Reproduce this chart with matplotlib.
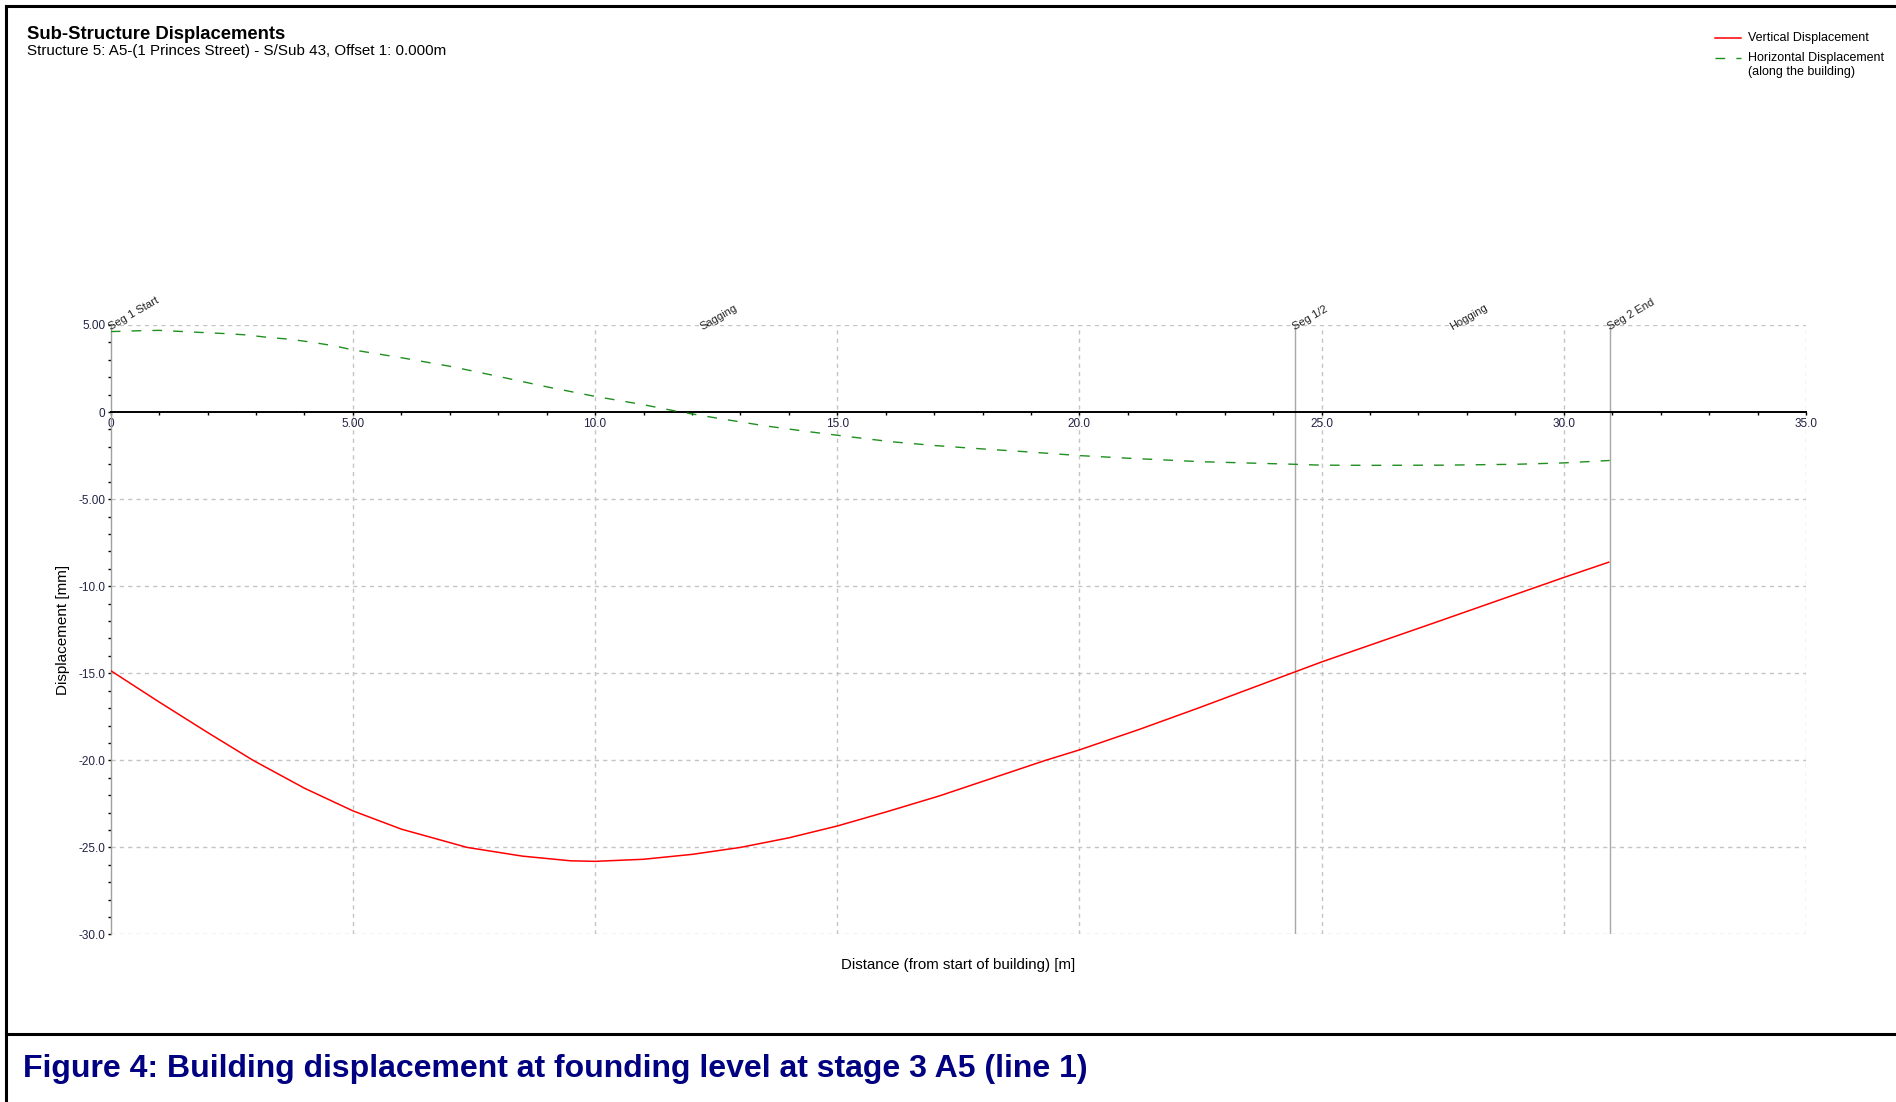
import numpy as np
import matplotlib.pyplot as plt
from matplotlib.lines import Line2D
from matplotlib.ticker import MultipleLocator, FixedLocator

plt.rcParams['font.family'] = ['Liberation Sans', 'DejaVu Sans']

# vertical displacement (mm) along the building
dist_v = [0, 1.0, 2.0, 2.94, 4.0, 5.0, 6.0, 7.36, 8.5, 9.5, 10.0, 11.0, 12.0, 13.0,
          14.0, 15.0, 16.0, 17.1, 19.3, 20.0, 21.26, 22.5, 24.48, 25.0, 27.33,
          30.0, 30.93]
vert = [-14.85, -16.65, -18.4, -20.0, -21.6, -22.9, -23.95, -25.0, -25.5, -25.77,
        -25.8, -25.68, -25.4, -25.0, -24.45, -23.77, -22.97, -22.05, -20.0, -19.4,
        -18.2, -16.95, -14.89, -14.35, -12.1, -9.5, -8.62]

# horizontal displacement (mm), along the building
dist_h = [0, 0.6, 1.0, 1.5, 1.95, 2.4, 2.8, 3.2, 3.7, 4.1, 4.6, 5.0, 6, 7, 8, 9, 10, 11,
          11.77, 12.63, 13.48, 14.36, 15.2, 16.1, 17.0, 17.8, 19, 20, 21, 22.5, 24.45,
          25, 26, 27.5, 29, 30, 30.95]
horiz = [4.62, 4.67, 4.69, 4.62, 4.56, 4.50, 4.43, 4.30, 4.18, 4.03, 3.81, 3.57, 3.12,
         2.63, 2.05, 1.45, 0.9, 0.42, 0.0, -0.40, -0.78, -1.11, -1.40, -1.70, -1.92,
         -2.08, -2.3, -2.5, -2.65, -2.85, -3.0, -3.05, -3.06, -3.05, -3.0, -2.92, -2.78]

seg_x = [0, 24.45, 30.95]
seg_lines = [24.45, 30.95]
seg_labels = ['Seg 1 Start', 'Seg 1/2', 'Seg 2 End']
zone_x = [12.22, 27.7]
zone_labels = ['Sagging', 'Hogging']

x_ticks = [0, 5, 10, 15, 20, 25, 30, 35]
x_ticklabels = ['0', '5.00', '10.0', '15.0', '20.0', '25.0', '30.0', '35.0']
y_ticks = [5, 0, -5, -10, -15, -20, -25, -30]
y_ticklabels = ['5.00', '0', '-5.00', '-10.0', '-15.0', '-20.0', '-25.0', '-30.0']

red = '#ff0000'
green = '#1f8f1f'
grid_col = '#c4c4c4'

fig = plt.figure(figsize=(18.96, 11.02), dpi=100)
ax = fig.add_axes([0.0584, 0.152, 0.8941, 0.5531])

ax.set_xlim(0, 35)
ax.set_ylim(-30, 5)

# grid
for gx in x_ticks[1:]:
    ax.axvline(gx, color=grid_col, lw=1.0, ls=(0, (3, 3)), zorder=0)
for gy in y_ticks:
    if gy != 0:
        ax.axhline(gy, color=grid_col, lw=1.0, ls=(0, (3, 3)), zorder=0)

ax.vlines(seg_lines, -30, 5, color='#a8a8a8', lw=1.0, zorder=1)

ax.plot(dist_v, vert, color=red, lw=1.1, zorder=3)
ax.plot(dist_h, horiz, color=green, lw=1.0, ls=(0, (7, 8)), zorder=3)

for sx, lab in zip(seg_x, seg_labels):
    ax.annotate(lab, xy=(sx, 5), xytext=(0, -4), textcoords='offset points',
                rotation=30, rotation_mode='anchor', ha='left', va='baseline',
                fontsize=8, color='#222222')
for zx, lab in zip(zone_x, zone_labels):
    ax.annotate(lab, xy=(zx, 5), xytext=(0, -4), textcoords='offset points',
                rotation=30, rotation_mode='anchor', ha='left', va='baseline',
                fontsize=8, color='#222222')

# spines
for s in ['top', 'right']:
    ax.spines[s].set_visible(False)
ax.spines['bottom'].set_position(('data', 0))
ax.spines['bottom'].set_color('black')
ax.spines['bottom'].set_linewidth(1.4)
ax.spines['left'].set_color('#a0a0a0')
ax.spines['left'].set_linewidth(1.0)

ax.xaxis.set_major_locator(FixedLocator(x_ticks))
ax.set_xticklabels(x_ticklabels)
ax.xaxis.set_minor_locator(MultipleLocator(1))
ax.yaxis.set_major_locator(FixedLocator(y_ticks))
ax.set_yticklabels(y_ticklabels)
ax.yaxis.set_minor_locator(MultipleLocator(1))
ax.tick_params(axis='x', which='both', direction='out', length=2.5, width=1,
               pad=1.5, labelsize=8.5, colors='black')
ax.tick_params(axis='y', which='both', direction='out', length=2.5, width=1,
               pad=1.5, labelsize=8.5, colors='black')
for t in ax.get_xticklabels():
    t.set_color('#222244')
for t in ax.get_yticklabels():
    t.set_color('#222244')

ax.set_xlabel('Distance (from start of building) [m]', fontsize=10.8, labelpad=0)
ax.xaxis.set_label_coords(0.5, -0.039)
ax.set_ylabel('Displacement [mm]', fontsize=11)
ax.yaxis.set_label_coords(-0.024, 0.5)

# titles
fig.text(0.0142, 0.969, 'Sub-Structure Displacements', fontsize=13.3,
         fontweight='bold', va='center', ha='left')
fig.text(0.0142, 0.9535, 'Structure 5: A5-(1 Princes Street) - S/Sub 43, Offset 1: 0.000m',
         fontsize=10.9, va='center', ha='left')

# legend
lx0, lx1, tx = 1715 / 1896, 1741 / 1896, 1748 / 1896
fig.add_artist(Line2D([lx0, lx1], [1 - 37.5 / 1102] * 2, transform=fig.transFigure,
                      color=red, lw=1.1))
fig.add_artist(Line2D([lx0, lx1], [1 - 58 / 1102] * 2, transform=fig.transFigure,
                      color=green, lw=1.0, ls=(0, (7, 8))))
fig.text(tx, 1 - 38.5 / 1102, 'Vertical Displacement', fontsize=9, va='center')
fig.text(tx, 1 - 58.5 / 1102, 'Horizontal Displacement', fontsize=9, va='center')
fig.text(tx, 1 - 71.5 / 1102, '(along the building)', fontsize=9, va='center')

# frame lines
xl = 6 / 1896
ytop = 1 - 6 / 1102
ybot = 1 - 1034 / 1102
fig.add_artist(Line2D([xl, 1], [ytop, ytop], transform=fig.transFigure, color='black', lw=2.2))
fig.add_artist(Line2D([xl, xl], [0, ytop], transform=fig.transFigure, color='black', lw=2.2))
fig.add_artist(Line2D([xl, 1], [ybot, ybot], transform=fig.transFigure, color='black', lw=2.2))

fig.text(23 / 1896, 1 - 1069 / 1102,
         'Figure 4: Building displacement at founding level at stage 3 A5 (line 1)',
         fontsize=23, fontweight='bold', color='#000080', va='center', ha='left')

fig.savefig('out.png', dpi=100)
